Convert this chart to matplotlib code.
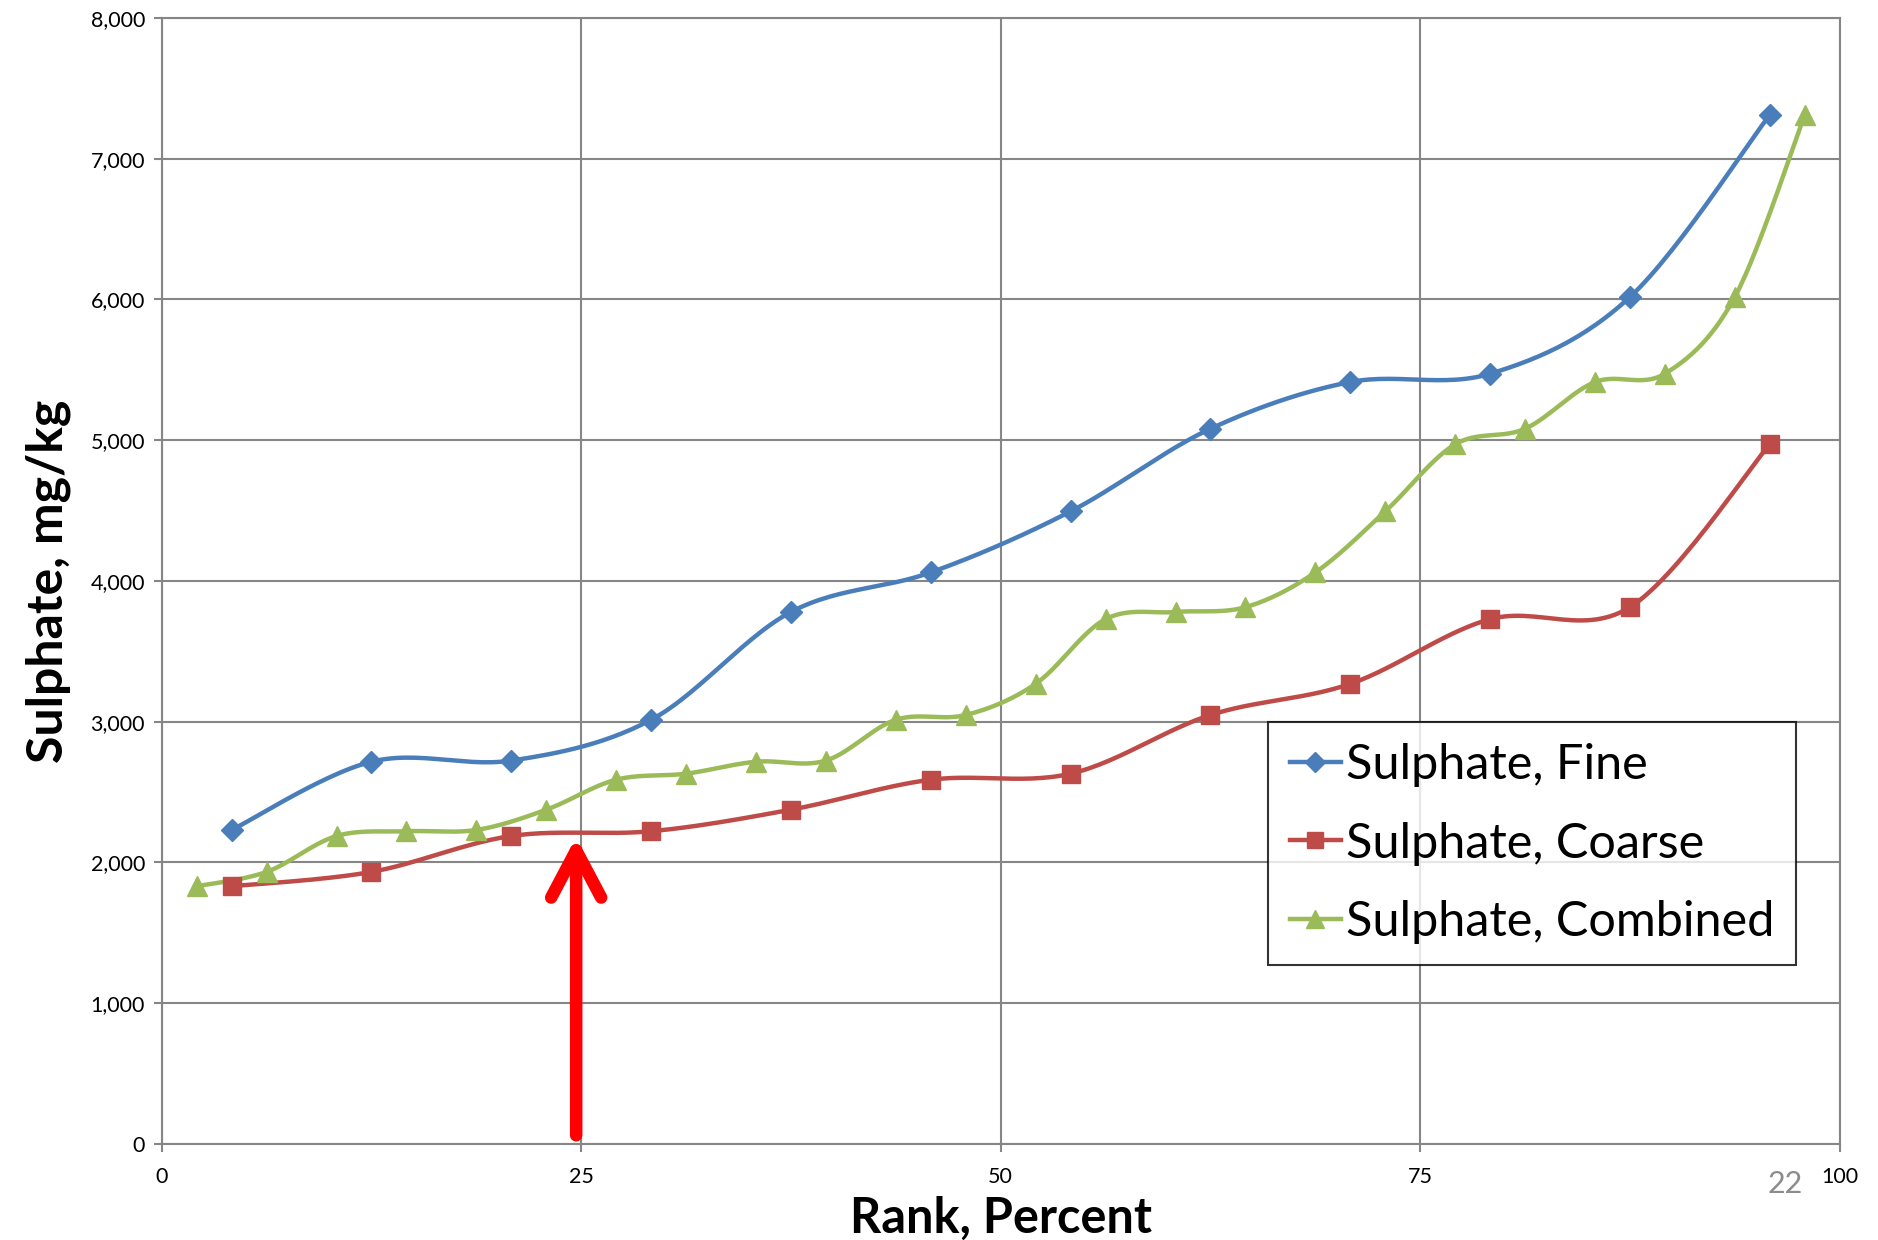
import matplotlib
matplotlib.use("Agg")
import matplotlib.pyplot as plt
import numpy as np
from matplotlib.patches import FancyArrowPatch
from matplotlib.ticker import StrMethodFormatter

plt.rcParams['font.family'] = ['Lato', 'DejaVu Sans']

# Данные
rank_fine = [4.17, 12.5, 20.83, 29.17, 37.5, 45.83, 54.17, 62.5, 70.83, 79.17, 87.5, 95.83]
fine = [2230, 2715, 2723, 3013, 3779, 4060, 4494, 5081, 5413, 5472, 6017, 7311]
coarse = [1830, 1932, 2187, 2221, 2374, 2587, 2630, 3047, 3268, 3728, 3813, 4970]
rank_combined = [2.08, 6.25, 10.42, 14.58, 18.75, 22.92, 27.08, 31.25, 35.42, 39.58, 43.75, 47.92,
                 52.08, 56.25, 60.42, 64.58, 68.75, 72.92, 77.08, 81.25, 85.42, 89.58, 93.75, 97.92]
combined = [1830, 1932, 2187, 2221, 2230, 2374, 2587, 2630, 2715, 2723, 3013, 3047,
            3268, 3728, 3779, 3813, 4060, 4494, 4970, 5081, 5413, 5472, 6017, 7311]
arrow_x = 24.7
arrow_from, arrow_to = 60, 2180


def smooth(x, y, n=30):
    # сглаживание как в Excel (кривые Безье через точки)
    p = np.column_stack([x, y]).astype(float)
    pts = np.vstack([p[0], p, p[-1]])
    t = np.linspace(0, 1, n)[:, None]
    out = []
    for i in range(1, len(pts) - 2):
        p0, p1, p2, p3 = pts[i - 1], pts[i], pts[i + 1], pts[i + 2]
        c1 = p1 + (p2 - p0) / 6
        c2 = p2 - (p3 - p1) / 6
        seg = ((1 - t) ** 3) * p1 + 3 * ((1 - t) ** 2) * t * c1 + 3 * (1 - t) * t ** 2 * c2 + t ** 3 * p2
        out.append(seg)
    out = np.vstack(out)
    return out[:, 0], out[:, 1]


fig = plt.figure(figsize=(18.78, 12.40), dpi=100)
ax = fig.add_axes([0.0861, 0.0776, 0.8935, 0.9079])

series = [
    (rank_fine, fine, '#4A7EBB', 'D', 11, 'Sulphate, Fine'),
    (rank_fine, coarse, '#BE4B48', 's', 13, 'Sulphate, Coarse'),
    (rank_combined, combined, '#9BBB59', '^', 14, 'Sulphate, Combined'),
]
for xs, ys, c, m, ms, lab in series:
    sx, sy = smooth(xs, ys)
    ax.plot(sx, sy, color=c, lw=3.2, solid_capstyle='round', zorder=3)
    ax.plot(xs, ys, ls='none', marker=m, ms=ms, color=c, zorder=4)
    ax.plot([], [], color=c, lw=3.2, marker=m, ms=ms * 0.9, label=lab)

arr = FancyArrowPatch((arrow_x, arrow_from), (arrow_x, arrow_to),
                      arrowstyle='->,head_length=34,head_width=18', mutation_scale=1,
                      color='#FF0000', lw=9, shrinkA=0, shrinkB=0,
                      capstyle='round', joinstyle='round', zorder=5)
ax.add_patch(arr)

ax.set_xlim(0, 100)
ax.set_ylim(0, 8000)
ax.set_xticks([0, 25, 50, 75, 100])
ax.set_yticks(range(0, 8001, 1000))
ax.yaxis.set_major_formatter(StrMethodFormatter('{x:,.0f}'))
ax.grid(True, color='#868686', lw=1.5)
ax.set_axisbelow(True)
for s in ax.spines.values():
    s.set_color('#868686')
    s.set_linewidth(1.5)
ax.tick_params(axis='both', labelsize=15.5, color='#868686', length=6, width=1.5, pad=6)
ax.tick_params(axis='x', pad=11)

ax.set_xlabel('Rank, Percent', fontsize=35, fontweight='bold', labelpad=6)
ax.set_ylabel('Sulphate, mg/kg', fontsize=36, fontweight='bold', labelpad=14)

leg = ax.legend(loc='upper right', bbox_to_anchor=(0.974, 0.375), borderaxespad=0,
                fontsize=35, frameon=True, fancybox=False, edgecolor='black',
                handlelength=1.05, handletextpad=0.1, labelspacing=0.7, borderpad=0.45)
leg.get_frame().set_linewidth(1.5)

fig.text(0.9505, 0.045, '22', fontsize=22, color='#8C8C8C', ha='center', va='center')

fig.savefig('out.png', dpi=100)
